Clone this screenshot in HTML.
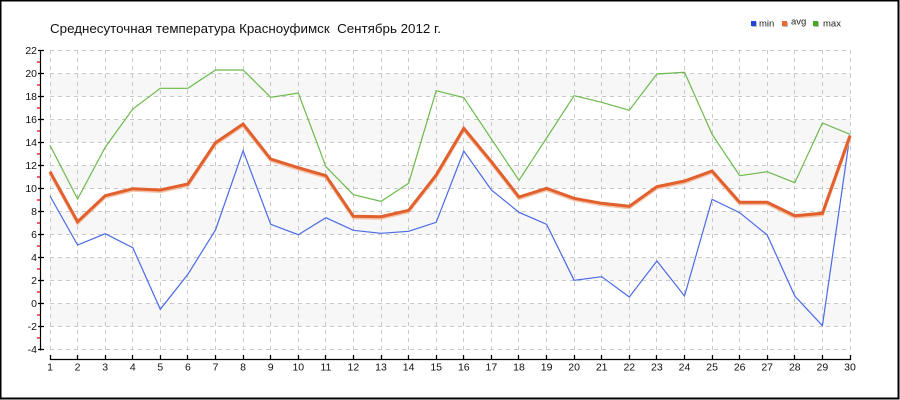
<!DOCTYPE html>
<html><head><meta charset="utf-8"><style>
html,body{margin:0;padding:0;background:#fff;}
svg{display:block;}
text{font-family:"Liberation Sans","DejaVu Sans",sans-serif;}
</style></head><body>
<svg width="900" height="400" viewBox="0 0 900 400" xmlns="http://www.w3.org/2000/svg">
<rect x="0" y="0" width="900" height="400" fill="#fff"/>
<rect x="0.5" y="0.5" width="898" height="398" fill="none" stroke="#000" stroke-width="2"/>

<text x="50" y="33" font-size="13" fill="#111" textLength="391" lengthAdjust="spacingAndGlyphs">Среднесуточная температура Красноуфимск &#160;Сентябрь 2012 г.</text>

<!-- legend -->
<rect x="752" y="22" width="5" height="5" fill="#bbb"/>
<rect x="751" y="21" width="5" height="5" fill="#2244dd"/>
<text x="759" y="26.5" font-size="9.5" fill="#222">min</text>
<rect x="783" y="22" width="5" height="5" fill="#bbb"/>
<rect x="782" y="21" width="5" height="5" fill="#e86a30"/>
<text x="791" y="24.5" font-size="9.5" fill="#222">avg</text>
<rect x="814" y="22" width="5" height="5" fill="#bbb"/>
<rect x="813" y="21" width="5" height="5" fill="#44aa22"/>
<text x="823" y="26.5" font-size="9.5" fill="#222">max</text>

<!-- bands -->
<g fill="#f7f7f7">
<rect x="50" y="73.5" width="800" height="23"/>
<rect x="50" y="119.5" width="800" height="23"/>
<rect x="50" y="165.5" width="800" height="23"/>
<rect x="50" y="211.5" width="800" height="23"/>
<rect x="50" y="257.5" width="800" height="23"/>
<rect x="50" y="303.5" width="800" height="23"/>
</g>

<!-- grid -->
<g stroke="#c8c8c8" stroke-width="1" stroke-dasharray="4,4" fill="none">
<path d="M50 50.5H851M50 73.5H851M50 96.5H851M50 119.5H851M50 142.5H851M50 165.5H851M50 188.5H851M50 211.5H851M50 234.5H851M50 257.5H851M50 280.5H851M50 303.5H851M50 326.5H851M50 349.5H851"/>
<path d="M50.5 50V351M77.5 50V351M105.5 50V351M132.5 50V351M160.5 50V351M187.5 50V351M215.5 50V351M243.5 50V351M270.5 50V351M298.5 50V351M325.5 50V351M353.5 50V351M381.5 50V351M408.5 50V351M436.5 50V351M463.5 50V351M491.5 50V351M518.5 50V351M546.5 50V351M574.5 50V351M601.5 50V351M629.5 50V351M656.5 50V351M684.5 50V351M712.5 50V351M739.5 50V351M767.5 50V351M794.5 50V351M822.5 50V351M850.5 50V351"/>
</g>

<!-- y axis -->
<g stroke="#000" stroke-width="1.2" fill="none">
<path d="M40.5 50V350.5"/>
<path d="M38 50.5H44M38 73.5H44M38 96.5H44M38 119.5H44M38 142.5H44M38 165.5H44M38 188.5H44M38 211.5H44M38 234.5H44M38 257.5H44M38 280.5H44M38 303.5H44M38 326.5H44M38 349.5H44"/>
</g>
<g stroke="#e00" stroke-width="1.2" fill="none">
<path d="M37 62H40M37 85H40M37 108H40M37 131H40M37 154H40M37 177H40M37 200H40M37 223H40M37 246H40M37 269H40M37 292H40M37 315H40M37 338H40"/>
</g>
<g font-size="10.5" fill="#111" text-anchor="end">
<text x="37" y="54">22</text>
<text x="37" y="77">20</text>
<text x="37" y="100">18</text>
<text x="37" y="123">16</text>
<text x="37" y="146">14</text>
<text x="37" y="169">12</text>
<text x="37" y="192">10</text>
<text x="37" y="215">8</text>
<text x="37" y="238">6</text>
<text x="37" y="261">4</text>
<text x="37" y="284">2</text>
<text x="37" y="307">0</text>
<text x="37" y="330">-2</text>
<text x="37" y="353">-4</text>
</g>

<!-- x axis -->
<g stroke="#000" stroke-width="1.3" fill="none">
<path d="M50 359.5H851"/>
<path d="M50.5 355V360M77.5 355V360M105.5 355V360M132.5 355V360M160.5 355V360M187.5 355V360M215.5 355V360M243.5 355V360M270.5 355V360M298.5 355V360M325.5 355V360M353.5 355V360M381.5 355V360M408.5 355V360M436.5 355V360M463.5 355V360M491.5 355V360M518.5 355V360M546.5 355V360M574.5 355V360M601.5 355V360M629.5 355V360M656.5 355V360M684.5 355V360M712.5 355V360M739.5 355V360M767.5 355V360M794.5 355V360M822.5 355V360M850.5 355V360"/>
</g>
<g font-size="10.5" fill="#111" text-anchor="middle">
<text x="50" y="370.5">1</text><text x="77.6" y="370.5">2</text><text x="105.2" y="370.5">3</text><text x="132.8" y="370.5">4</text><text x="160.3" y="370.5">5</text><text x="187.9" y="370.5">6</text><text x="215.5" y="370.5">7</text><text x="243.1" y="370.5">8</text><text x="270.7" y="370.5">9</text><text x="298.3" y="370.5">10</text><text x="325.9" y="370.5">11</text><text x="353.4" y="370.5">12</text><text x="381" y="370.5">13</text><text x="408.6" y="370.5">14</text><text x="436.2" y="370.5">15</text><text x="463.8" y="370.5">16</text><text x="491.4" y="370.5">17</text><text x="519" y="370.5">18</text><text x="546.6" y="370.5">19</text><text x="574.1" y="370.5">20</text><text x="601.7" y="370.5">21</text><text x="629.3" y="370.5">22</text><text x="656.9" y="370.5">23</text><text x="684.5" y="370.5">24</text><text x="712.1" y="370.5">25</text><text x="739.7" y="370.5">26</text><text x="767.2" y="370.5">27</text><text x="794.8" y="370.5">28</text><text x="822.4" y="370.5">29</text><text x="850" y="370.5">30</text>
</g>

<!-- series -->
<polyline fill="none" stroke="#6cba4c" stroke-width="1.2" stroke-linejoin="miter" points="50,145.3 77.6,199 105.2,147.3 132.8,109 160.3,88.3 187.9,88.3 215.5,70 243.1,70 270.7,97.3 298.3,93 325.9,166.7 353.4,194.7 381,201.3 408.6,183.3 436.2,90.7 463.8,97.7 491.4,139 519,180.3 546.6,138 574.1,95.7 601.7,102.3 629.3,110.3 656.9,74 684.5,72.3 712.1,134.3 739.7,175.7 767.2,171.7 794.8,182.7 822.4,123 850,134.3"/>

<polyline fill="none" stroke="#4a6ae6" stroke-width="1.2" points="50,196 77.6,245 105.2,233.7 132.8,247.7 160.3,309.3 187.9,274.3 215.5,230 243.1,150.7 270.7,224.3 298.3,234.7 325.9,217.7 353.4,230.3 381,233.3 408.6,231.3 436.2,222.3 463.8,151 491.4,190 519,212.3 546.6,224.3 574.1,280.3 601.7,276.7 629.3,297 656.9,261 684.5,296 712.1,199.3 739.7,212.7 767.2,235 794.8,296 822.4,325.7 850,135"/>

<polyline fill="none" stroke="#f4c0a8" stroke-width="3" transform="translate(0,1.5)" points="50,171.7 77.6,221.7 105.2,195.7 132.8,188.7 160.3,190 187.9,184 215.5,142.7 243.1,124 270.7,159 298.3,167.7 325.9,175.7 353.4,216.3 381,216.7 408.6,210.3 436.2,175 463.8,128.3 491.4,161.7 519,197 546.6,188.3 574.1,198.3 601.7,203.3 629.3,206.3 656.9,186.7 684.5,181 712.1,171 739.7,202.3 767.2,202.3 794.8,215.7 822.4,213.3 850,135.7"/>
<polyline fill="none" stroke="#e2602c" stroke-width="3" points="50,171.7 77.6,221.7 105.2,195.7 132.8,188.7 160.3,190 187.9,184 215.5,142.7 243.1,124 270.7,159 298.3,167.7 325.9,175.7 353.4,216.3 381,216.7 408.6,210.3 436.2,175 463.8,128.3 491.4,161.7 519,197 546.6,188.3 574.1,198.3 601.7,203.3 629.3,206.3 656.9,186.7 684.5,181 712.1,171 739.7,202.3 767.2,202.3 794.8,215.7 822.4,213.3 850,135.7"/>
</svg>
</body></html>
